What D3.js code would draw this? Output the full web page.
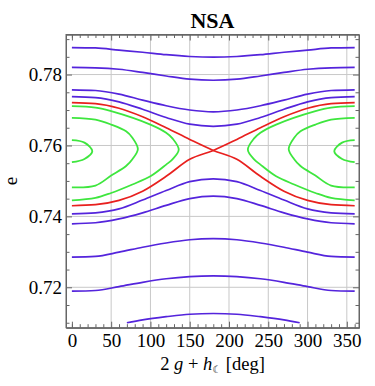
<!DOCTYPE html>
<html>
<head>
<meta charset="utf-8">
<script src="https://cdn.jsdelivr.net/npm/d3@7"></script>
<style>
body{margin:0;background:#fff;}
svg text{font-family:"Liberation Serif","Times New Roman",serif;fill:#000;}
</style>
</head>
<body>
<div id="chart"></div>
<script>
// angle samples (deg) for the curves that run across the whole plot
const degs = [0,30,60,90,120,150,180,210,240,270,300,330,360];

// circulating curves (violet), e values at degs
const violet1 = [0.7876,0.7875,0.7869,0.7863,0.7856,0.7851,0.7849,0.7851,0.7856,0.7863,0.7869,0.7875,0.7876];
const violet2 = [0.7820,0.7819,0.7815,0.7806,0.7796,0.7787,0.7784,0.7787,0.7796,0.7806,0.7815,0.7819,0.7820];
const violet3 = [0.7757,0.7755,0.7745,0.7728,0.7712,0.7700,0.7695,0.7700,0.7712,0.7728,0.7745,0.7755,0.7757];
const violet4 = [0.7738,0.7735,0.7723,0.7702,0.7679,0.7660,0.7654,0.7660,0.7679,0.7702,0.7723,0.7735,0.7738];
const violet5 = [0.7407,0.7410,0.7421,0.7446,0.7473,0.7498,0.7506,0.7498,0.7473,0.7446,0.7421,0.7410,0.7407];
const violet6 = [0.7379,0.7382,0.7393,0.7410,0.7431,0.7450,0.7457,0.7450,0.7431,0.7410,0.7393,0.7382,0.7379];
const violet7 = [0.7285,0.7287,0.7299,0.7313,0.7325,0.7334,0.7337,0.7334,0.7325,0.7313,0.7299,0.7287,0.7285];
const violet8 = [0.7189,0.7191,0.7202,0.7214,0.7224,0.7230,0.7232,0.7230,0.7224,0.7214,0.7202,0.7191,0.7189];
// the short one at the bottom
const degs9 = [70,90,120,150,180,210,240,270,290];
const violet9 = [0.7100,0.7108,0.7117,0.7124,0.7126,0.7124,0.7117,0.7108,0.7100];

// separatrix (red), two diagonals through the X point
const redA = [0.7721,0.7718,0.7705,0.7681,0.7650,0.7617,0.7586,0.7561,0.7513,0.7471,0.7445,0.7433,0.7430];
const redB = [0.7430,0.7433,0.7445,0.7471,0.7513,0.7561,0.7586,0.7617,0.7650,0.7681,0.7705,0.7718,0.7721];

// librating curves (green), [deg, e] along each curve
const greenInnerL = [[0,0.7615],[16,0.7608],[26,0.7584],[16,0.7562],[0,0.7553]];
const greenMidL = [[0,0.7678],[30,0.7673],[50,0.7659],[69,0.7640],[77,0.7622],[84,0.7590],[77,0.7561],[69,0.7542],[50,0.7515],[30,0.7487],[0,0.7482]];
const greenOuterL = [[0,0.7711],[30,0.7707],[50,0.7697],[100,0.7659],[120,0.7636],[128,0.7620],[136,0.7588],[128,0.7561],[120,0.7546],[100,0.7513],[77,0.7490],[50,0.7466],[30,0.7452],[0,0.7445]];
const greenInnerR = [[360,0.7615],[344,0.7608],[334,0.7584],[344,0.7562],[360,0.7553]];
const greenMidR = [[360,0.7678],[330,0.7673],[310,0.7659],[291,0.7640],[283,0.7622],[276,0.7590],[283,0.7561],[291,0.7542],[310,0.7515],[330,0.7487],[360,0.7482]];
const greenOuterR = [[360,0.7711],[330,0.7707],[310,0.7697],[260,0.7659],[240,0.7636],[232,0.7620],[224,0.7588],[232,0.7561],[240,0.7546],[260,0.7513],[283,0.7490],[310,0.7466],[330,0.7452],[360,0.7445]];

// ticks
const xMajor = [0,50,100,150,200,250,300,350];
const xMinor = [0,10,20,30,40,60,70,80,90,110,120,130,140,160,170,180,190,210,220,230,240,260,270,280,290,310,320,330,340,360];
const yMajor = [0.72,0.74,0.76,0.78];
const yMinor = [0.71,0.715,0.725,0.73,0.735,0.745,0.75,0.755,0.765,0.77,0.775,0.785,0.79];

const w = 375, h = 386;
const pLeft = 66, pRight = 359, pTop = 34.5, pBottom = 327.7;

const svg = d3.select("#chart").append("svg")
    .attr("width", w)
    .attr("height", h);

const xScale = d3.scaleLinear().domain([-7.5, 365.5]).range([pLeft, pRight]);
const yScale = d3.scaleLinear().domain([0.7086, 0.7913]).range([pBottom, pTop]);

// grid
svg.append("g").selectAll("line")
    .data(xMajor.filter(d => d > 0))
    .enter().append("line")
    .attr("x1", d => xScale(d)).attr("x2", d => xScale(d))
    .attr("y1", pTop).attr("y2", pBottom)
    .attr("stroke", "#c8c8c8").attr("stroke-width", 1);
svg.append("g").selectAll("line")
    .data(yMajor)
    .enter().append("line")
    .attr("x1", pLeft).attr("x2", pRight)
    .attr("y1", d => yScale(d)).attr("y2", d => yScale(d))
    .attr("stroke", "#c8c8c8").attr("stroke-width", 1);

// frame axes, ticks pointing inwards
const frameColor = "#666";
function styleAxis(g) {
    g.select(".domain").attr("stroke", frameColor);
    g.selectAll(".tick line").attr("stroke", frameColor);
    g.selectAll(".tick text").attr("font-size", 19).attr("fill", "#000");
}

svg.append("g").attr("transform", "translate(0," + pBottom + ")")
    .call(d3.axisBottom(xScale).tickValues(xMinor).tickSizeInner(-3.5).tickSizeOuter(0).tickFormat(""))
    .call(styleAxis);
svg.append("g").attr("transform", "translate(0," + pBottom + ")")
    .call(d3.axisBottom(xScale).tickValues(xMajor).tickSizeInner(-6).tickSizeOuter(0).tickPadding(5.5))
    .call(styleAxis);
svg.append("g").attr("transform", "translate(0," + pTop + ")")
    .call(d3.axisTop(xScale).tickValues(xMinor).tickSizeInner(-3.5).tickSizeOuter(0).tickFormat(""))
    .call(styleAxis);
svg.append("g").attr("transform", "translate(0," + pTop + ")")
    .call(d3.axisTop(xScale).tickValues(xMajor).tickSizeInner(-6).tickSizeOuter(0).tickFormat(""))
    .call(styleAxis);

svg.append("g").attr("transform", "translate(" + pLeft + ",0)")
    .call(d3.axisLeft(yScale).tickValues(yMinor).tickSizeInner(-3.5).tickSizeOuter(0).tickFormat(""))
    .call(styleAxis);
svg.append("g").attr("transform", "translate(" + pLeft + ",0)")
    .call(d3.axisLeft(yScale).tickValues(yMajor).tickSizeInner(-6).tickSizeOuter(0).tickPadding(4).tickFormat(d3.format(".2f")))
    .call(styleAxis);
svg.append("g").attr("transform", "translate(" + pRight + ",0)")
    .call(d3.axisRight(yScale).tickValues(yMinor).tickSizeInner(-3.5).tickSizeOuter(0).tickFormat(""))
    .call(styleAxis);
svg.append("g").attr("transform", "translate(" + pRight + ",0)")
    .call(d3.axisRight(yScale).tickValues(yMajor).tickSizeInner(-6).tickSizeOuter(0).tickFormat(""))
    .call(styleAxis);

// curves
const violet = "#5424dc", red = "#e8201e", green = "#3ee63e";
const lineX = d3.line()
    .x(d => xScale(d[0]))
    .y(d => yScale(d[1]))
    .curve(d3.curveMonotoneX);
const lineP = d3.line()
    .x(d => xScale(d[0]))
    .y(d => yScale(d[1]))
    .curve(d3.curveCatmullRom.alpha(0.5));

const plot = svg.append("g");

[violet1, violet2, violet3, violet4, violet5, violet6, violet7, violet8].forEach(vals => {
    plot.append("path")
        .attr("d", lineX(degs.map((d, i) => [d, vals[i]])))
        .attr("fill", "none").attr("stroke", violet).attr("stroke-width", 1.7);
});
plot.append("path")
    .attr("d", lineX(degs9.map((d, i) => [d, violet9[i]])))
    .attr("fill", "none").attr("stroke", violet).attr("stroke-width", 1.7);

[greenInnerL, greenMidL, greenOuterL, greenInnerR, greenMidR, greenOuterR].forEach(pts => {
    plot.append("path")
        .attr("d", lineP(pts))
        .attr("fill", "none").attr("stroke", green).attr("stroke-width", 1.8);
});

[redA, redB].forEach(vals => {
    plot.append("path")
        .attr("d", lineX(degs.map((d, i) => [d, vals[i]])))
        .attr("fill", "none").attr("stroke", red).attr("stroke-width", 1.7);
});

// frame on top
svg.append("rect")
    .attr("x", pLeft).attr("y", pTop)
    .attr("width", pRight - pLeft).attr("height", pBottom - pTop)
    .attr("fill", "none").attr("stroke", frameColor).attr("stroke-width", 1);

// title and labels
svg.append("text")
    .attr("x", (pLeft + pRight) / 2).attr("y", 28)
    .attr("text-anchor", "middle")
    .attr("font-size", 22).attr("font-weight", "bold")
    .text("NSA");

svg.append("text")
    .attr("transform", "translate(17," + ((pTop + pBottom) / 2) + ") rotate(-90)")
    .attr("text-anchor", "middle")
    .attr("font-size", 19)
    .text("e");

const xl = svg.append("text")
    .attr("x", (pLeft + pRight) / 2).attr("y", 370)
    .attr("text-anchor", "middle")
    .attr("font-size", 18.5);
xl.append("tspan").text("2 ");
xl.append("tspan").attr("font-style", "italic").text("g");
xl.append("tspan").text(" + ");
xl.append("tspan").attr("font-style", "italic").text("h");
xl.append("tspan").attr("font-size", 10).attr("dy", 3).style("font-family", "'DejaVu Sans'").text("\u263E");
xl.append("tspan").attr("dy", -3).text(" [deg]");
</script>
</body>
</html>
